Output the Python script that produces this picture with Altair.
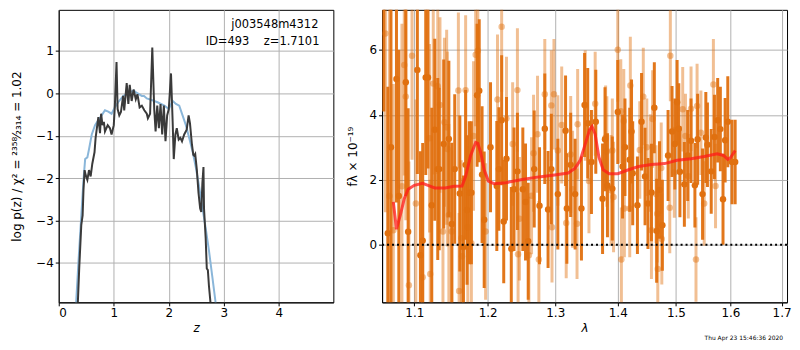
import altair as alt
import pandas as pd

# ---------------- left panel: redshift probability ----------------
z_pz = [0.33, 0.373, 0.41, 0.434, 0.45, 0.47, 0.49, 0.52, 0.55, 0.58, 0.61, 0.65, 0.67, 0.70,
        0.72, 0.75, 0.77, 0.795, 0.82, 0.84, 0.89, 0.93, 0.96, 1.0, 1.02, 1.05, 1.07, 1.10,
        1.13, 1.17, 1.19, 1.235, 1.265, 1.29, 1.325, 1.36, 1.40, 1.43, 1.47, 1.51, 1.555,
        1.60, 1.62, 1.66, 1.70, 1.735, 1.76, 1.79, 1.82, 1.85, 1.88, 1.91, 1.94, 1.97, 2.0,
        2.04, 2.07, 2.09, 2.12, 2.145, 2.18, 2.21, 2.24, 2.28, 2.325, 2.36, 2.385, 2.42,
        2.445, 2.46, 2.48, 2.51, 2.54, 2.57, 2.59, 2.61, 2.63, 2.64, 2.67, 2.69, 2.71, 2.73,
        2.76, 2.78]
logp_pz = [-5.5, -4.1, -3.1, -2.88, -2.27, -1.81, -1.93, -2.04, -1.81, -1.96, -1.66, -1.39,
           -1.05, -0.75, -0.56, -0.94, -0.48, -0.75, -0.67, -0.9, -0.75, -0.82, -0.97, -0.75,
           -0.29, 0.74, -0.37, -0.52, -0.44, -0.06, -0.4, 0.24, -0.25, 0.2, -0.18, 0.09,
           -0.14, -0.02, -0.33, -0.29, -0.4, -0.48, -0.59, -0.48, 1.08, -0.37, -0.9, -0.29,
           -0.82, -0.25, -0.97, -0.29, -1.13, -0.52, -0.37, 0.47, -0.67, -1.55, -0.97, -0.82,
           -1.09, -1.05, -1.13, -0.97, -0.86, -0.52, -0.71, -1.2, -1.45, -1.47, -1.43, -1.81,
           -2.35, -2.72, -2.8, -2.12, -1.74, -2.72, -3.41, -4.13, -4.17, -4.55, -4.97, -5.5]

z_ref = [0.30, 0.36, 0.41, 0.45, 0.48, 0.52, 0.55, 0.60, 0.66, 0.72, 0.78, 0.84, 0.90, 0.96,
         1.02, 1.08, 1.17, 1.27, 1.36, 1.42, 1.51, 1.55, 1.60, 1.675, 1.795, 1.92, 2.0, 2.07,
         2.13, 2.19, 2.25, 2.31, 2.37, 2.43, 2.49, 2.55, 2.61, 2.67, 2.73, 2.79, 2.85, 2.90]
logp_ref = [-5.3, -3.94, -2.88, -2.04, -1.55, -1.51, -1.32, -0.97, -0.75, -0.63, -0.52, -0.4,
            -0.43, -0.48, -0.33, -0.21, -0.06, 0.01, 0.07, 0.01, -0.06, -0.06, -0.12, -0.15,
            -0.21, -0.29, -0.37, -0.18, -0.25, -0.29, -0.52, -0.75, -1.05, -1.36, -1.74,
            -2.19, -2.69, -3.18, -3.71, -4.32, -4.93, -5.4]

z_ticks = [0, 1, 2, 3, 4]
logp_ticks = [-4, -3, -2, -1, 0, 1]
label_line1 = "j003548m4312"
label_line2 = "ID=493\u00a0\u00a0\u00a0\u00a0z=1.7101"

# ---------------- right panel: spectrum ----------------
lam_dark = [1.061, 1.066, 1.070, 1.077, 1.080, 1.089, 1.092, 1.104, 1.108, 1.111, 1.115, 1.118,
            1.123, 1.127, 1.131, 1.133, 1.139, 1.146, 1.150, 1.154, 1.161, 1.166, 1.169, 1.174,
            1.177, 1.185, 1.188, 1.192, 1.195, 1.204, 1.213, 1.216, 1.220, 1.223, 1.227, 1.234,
            1.238, 1.243, 1.251, 1.255, 1.259, 1.268, 1.276, 1.284, 1.289, 1.294, 1.304, 1.316,
            1.318, 1.324, 1.331, 1.341, 1.346, 1.351, 1.357, 1.364, 1.375, 1.379, 1.383, 1.391,
            1.400, 1.408, 1.412, 1.420, 1.433, 1.440, 1.446, 1.451, 1.457, 1.462, 1.466, 1.471,
            1.476, 1.486, 1.493, 1.498, 1.502, 1.505, 1.515, 1.521, 1.527, 1.534, 1.539, 1.548,
            1.557, 1.564, 1.570, 1.576, 1.581, 1.586, 1.590, 1.595, 1.603, 1.609,
            1.171, 1.423, 1.425, 1.507, 1.554]
flux_dark = [8.2, 0.36, 3.0, 5.1, 1.5, 5.0, 0.4, 5.38, -0.32, 0.13, 5.15, 5.15,
             1.22, 3.54, 2.33, 2.33, 3.1, 3.26, 0.64, 2.33, 1.58, -0.07, 2.46, 1.6,
             1.6, 4.6, 4.74, 2.16, 0.77, 3.0, 1.81, 2.33, 3.83, 0.72, 2.65, -0.12,
             1.71, 2.26, 1.71, 1.32, 0.11, 2.33, 1.2, 3.57, 1.09, 2.33, 1.56, 3.51,
             1.12, 2.46, 1.56, 1.12, 4.3, 3.74, 2.55, 3.79, 1.42, 3.25, 1.83, 1.73,
             4.09, 2.41, 3.0, 2.62, 1.22, 3.79, 2.1, 1.27, 1.61, 4.22, 0.43, 1.69,
             0.6, 2.75, 3.49, 3.1, 4.39, 3.57, 1.86, 2.75, 3.2, 1.83, 3.25, 1.56,
             3.08, 2.26, 3.32, 3.83, 3.56, 1.4, 3.22, 3.79, 2.55, 2.55,
             1.07, 3.49, 2.2, 2.25, 3.3]
err_dark = [4.1, 4.5, 5.5, 3.8, 4.5, 3.5, 3.8, 3.2, 3.2, 3.0, 3.0, 2.8,
            3.0, 2.8, 2.8, 2.5, 2.6, 2.4, 2.5, 2.3, 2.4, 2.2, 2.3, 2.2,
            2.2, 2.2, 2.2, 2.1, 2.1, 2.0, 2.0, 1.9, 2.0, 1.9, 1.9, 1.9,
            1.9, 1.8, 1.9, 1.8, 1.8, 1.8, 1.8, 1.7, 1.8, 1.7, 1.7, 1.7,
            1.7, 1.6, 1.7, 1.6, 1.6, 1.7, 1.6, 1.6, 1.7, 1.6, 1.6, 1.6,
            1.6, 1.6, 1.5, 1.6, 1.5, 1.5, 1.5, 1.4, 1.5, 1.4, 1.6, 1.5,
            1.4, 1.4, 1.4, 1.4, 1.3, 1.4, 1.3, 1.4, 1.3, 1.3, 1.4, 1.4,
            1.3, 1.3, 1.3, 1.3, 1.3, 1.4, 1.3, 1.4, 1.3, 1.3,
            2.3, 1.6, 1.6, 1.4, 1.4]

lam_light = [1.063, 1.068, 1.073, 1.084, 1.089, 1.093, 1.097, 1.102, 1.111, 1.120, 1.121, 1.125,
             1.131, 1.134, 1.138, 1.140, 1.150, 1.159, 1.160, 1.163, 1.164, 1.169, 1.177, 1.180,
             1.183, 1.186, 1.197, 1.214, 1.220, 1.227, 1.236, 1.243, 1.244, 1.246, 1.260, 1.264,
             1.267, 1.273, 1.275, 1.284, 1.294, 1.295, 1.298, 1.304, 1.317, 1.335, 1.347, 1.353,
             1.363, 1.380, 1.391, 1.400, 1.405, 1.406, 1.410, 1.411, 1.420, 1.421, 1.437, 1.443,
             1.449, 1.457, 1.468, 1.474, 1.475, 1.489, 1.490, 1.497, 1.512, 1.517, 1.522, 1.527,
             1.536, 1.538, 1.545, 1.551, 1.568, 1.572,
             1.087, 1.143, 1.144, 1.146, 1.172, 1.310, 1.324, 1.327, 1.334, 1.382, 1.389, 1.393,
             1.459, 1.455, 1.465, 1.467]
flux_light = [6.5, 1.5, 0.45, 1.8, 4.56, -1.24, 5.82, 1.27, -1.0, 3.28, -0.9, 4.96,
              4.88, 4.3, 0.41, 3.77, 0.41, 4.75, -1.42, 0.2, -0.35, 4.76, 0.05, 3.35,
              5.85, 5.97, 0.41, 4.47, 6.71, 3.89, 3.1, 4.76, -0.29, 0.8, -0.32, 1.51,
              2.82, 3.4, -0.45, 4.63, 4.29, 0.54, 4.63, 2.9, 0.67, 3.71, 4.29, 1.96,
              4.34, 3.3, 2.9, 6.0, 4.11, -0.45, 3.81, 1.12, 1.12, 4.9, 2.92, 4.56,
              3.0, 0.45, -0.74, 2.36, 0.18, 1.14, 5.82, 2.23, 4.17, 3.35, 2.11, 4.19,
              -0.45, 4.27, 3.45, 1.27, 4.93, 1.81,
              5.53, 3.62, 2.95, 0.92, 0.54, 3.69, 2.78, 1.71, 0.65, 2.87, 1.68, 1.47,
              3.87, 2.52, 1.56, 0.96]
err_light = [5.5, 6.0, 4.5, 5.0, 3.8, 3.8, 3.2, 3.2, 3.0, 2.9, 2.9, 2.8,
             2.7, 2.7, 2.6, 2.6, 2.5, 2.4, 2.4, 2.4, 2.4, 2.3, 2.3, 2.3,
             2.2, 2.2, 2.1, 2.0, 2.0, 1.9, 1.9, 1.9, 1.9, 1.9, 1.8, 1.8,
             1.8, 1.8, 1.8, 1.7, 1.7, 1.7, 1.7, 1.7, 1.7, 1.7, 1.7, 1.6,
             1.6, 1.6, 1.6, 1.6, 1.6, 1.6, 1.6, 1.5, 1.5, 1.5, 1.5, 1.5,
             1.5, 1.5, 1.5, 1.4, 1.4, 1.4, 1.4, 1.4, 1.3, 1.3, 1.3, 1.3,
             1.3, 1.3, 1.3, 1.3, 1.4, 1.3,
             3.4, 3.0, 3.0, 2.8, 2.5, 1.8, 1.8, 1.8, 1.7, 1.7, 1.7, 1.7,
             1.5, 1.5, 1.5, 1.5]

lam_model = [1.073, 1.077, 1.082, 1.087, 1.092, 1.100, 1.111, 1.118, 1.127, 1.141, 1.153, 1.164,
             1.169, 1.176, 1.183, 1.186, 1.190, 1.195, 1.201, 1.209, 1.226, 1.250, 1.275, 1.299,
             1.320, 1.331, 1.339, 1.347, 1.354, 1.358, 1.363, 1.369, 1.376, 1.386, 1.400, 1.418,
             1.435, 1.457, 1.480, 1.502, 1.527, 1.551, 1.575, 1.587, 1.595, 1.600, 1.609]
flux_model = [1.32, 0.48, 0.92, 1.42, 1.71, 1.83, 1.89, 1.83, 1.75, 1.75, 1.8, 1.81,
              2.11, 2.75, 3.15, 3.12, 2.85, 2.31, 1.96, 1.88, 1.91, 2.01, 2.09, 2.15,
              2.21, 2.36, 2.6, 3.1, 3.54, 3.64, 3.4, 2.7, 2.31, 2.19, 2.19, 2.31,
              2.41, 2.47, 2.5, 2.6, 2.65, 2.72, 2.8, 2.75, 2.63, 2.68, 2.9]

lam_ticks = [1.1, 1.2, 1.3, 1.4, 1.5, 1.6, 1.7]
flux_ticks = [0, 2, 4, 6]
timestamp = "Thu Apr 23 15:46:36 2020"

FONT = "DejaVu Sans"
DARK = "#e0700f"
W1, W2, H = 276, 407, 294

# ---------------- build left panel ----------------
pz = pd.DataFrame({"z": z_pz, "logp": logp_pz})
ref = pd.DataFrame({"z": z_ref, "logp": logp_ref})

zscale = alt.Scale(domain=[0, 4.99], nice=False, zero=False)
pscale = alt.Scale(domain=[-4.93, 1.97], nice=False, zero=False)
xz = alt.X("z:Q", scale=zscale,
           axis=alt.Axis(values=z_ticks, title="z", titleFontStyle="italic",
                         titleFontWeight="normal", format="d"))
yp = alt.Y("logp:Q", scale=pscale,
           axis=alt.Axis(values=logp_ticks, format="d", titleFontWeight="normal",
                         titlePadding=12,
                         title="log p(z) / χ² = ²³⁵⁸⁄₂₃₁₄ = 1.02"))

blue = alt.Chart(ref).mark_line(color="#8ab6d9", strokeWidth=2, clip=True).encode(x=xz, y=yp)
black = alt.Chart(pz).mark_line(color="#3a3a3a", strokeWidth=2, clip=True).encode(x=xz, y=yp)
t1 = alt.Chart(pd.DataFrame({"t": [label_line1]})).mark_text(
    align="right", baseline="alphabetic", fontSize=11.5, font=FONT, color="black").encode(
    x=alt.value(W1 - 15), y=alt.value(18), text="t:N")
t2 = alt.Chart(pd.DataFrame({"t": [label_line2]})).mark_text(
    align="right", baseline="alphabetic", fontSize=11.5, font=FONT, color="black").encode(
    x=alt.value(W1 - 14), y=alt.value(35), text="t:N")
left = alt.layer(blue, black, t1, t2).properties(width=W1, height=H)

# ---------------- build right panel ----------------
dk = pd.DataFrame({"lam": lam_dark, "f": flux_dark, "e": err_dark})
dk["lo"] = dk["f"] - dk["e"]
dk["hi"] = dk["f"] + dk["e"]
lt = pd.DataFrame({"lam": lam_light, "f": flux_light, "e": err_light})
lt["lo"] = lt["f"] - lt["e"]
lt["hi"] = lt["f"] + lt["e"]
md = pd.DataFrame({"lam": lam_model, "f": flux_model})
zero_df = pd.DataFrame({"f": [0]})
ts = pd.DataFrame({"t": [timestamp]})

lscale = alt.Scale(type="log", domain=[1.0588, 1.711], nice=False)
fscale = alt.Scale(domain=[-1.77, 7.23], nice=False, zero=False)
xl = alt.X("lam:Q", scale=lscale,
           axis=alt.Axis(values=lam_ticks, format=".1f", title="λ", titleFontStyle="italic",
                         titleFontWeight="normal"))
yf = alt.Y("f:Q", scale=fscale,
           axis=alt.Axis(values=flux_ticks, format="d", title="fλ × 10⁻¹⁹",
                         titleFontWeight="normal", titlePadding=10))

lt_bars = alt.Chart(lt).mark_rule(color=DARK, opacity=0.45, strokeWidth=3, clip=True).encode(
    x=xl, y=alt.Y("lo:Q", scale=fscale), y2="hi:Q")
lt_pts = alt.Chart(lt).mark_circle(color=DARK, opacity=0.45, size=42, clip=True).encode(x=xl, y=yf)
dk_bars = alt.Chart(dk).mark_rule(color=DARK, opacity=0.95, strokeWidth=3, clip=True).encode(
    x=xl, y=alt.Y("lo:Q", scale=fscale), y2="hi:Q")
dk_pts = alt.Chart(dk).mark_circle(color=DARK, opacity=1, size=42, clip=True).encode(x=xl, y=yf)
model = alt.Chart(md).mark_line(color="#ff1a1a", opacity=0.75, strokeWidth=3, clip=True).encode(
    x=xl, y=yf)
zline = alt.Chart(zero_df).mark_rule(color="black", strokeWidth=2, strokeDash=[2, 3]).encode(y=yf)
stamp = alt.Chart(ts).mark_text(align="right", baseline="alphabetic", fontSize=6,
                                font=FONT, color="black").encode(
    x=alt.value(W2 - 4), y=alt.value(H + 38), text="t:N")

right = alt.layer(lt_bars, dk_bars, lt_pts, dk_pts, model, zline, stamp).properties(
    width=W2, height=H)

chart = alt.hconcat(left, right, spacing=11).properties(
    padding={"left": 2, "top": 0, "right": 0, "bottom": 0}, background="white"
).configure_view(stroke="black", strokeWidth=1).configure_axis(
    grid=True, gridColor="#b0b0b0", gridWidth=1, domainColor="black", tickColor="black",
    tickSize=3.5, labelColor="black", titleColor="black", labelFont=FONT, titleFont=FONT,
    labelFontSize=12, titleFontSize=12, titleFontWeight="normal", labelPadding=2
)

chart.save("out.html", embed_options={"renderer": "svg", "actions": False})
